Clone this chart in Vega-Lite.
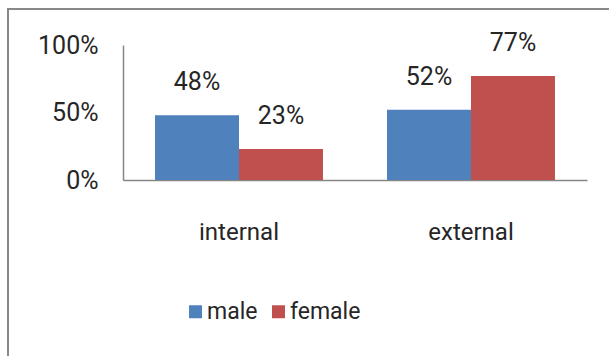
{
  "$schema": "https://vega.github.io/schema/vega-lite/v6.json",
  "autosize": {"type": "none"},
  "padding": {"left": 8, "top": 9, "right": 0, "bottom": 0},
  "width": 620,
  "height": 360,
  "background": "#ffffff",
  "config": {
    "view": {"stroke": "#888888", "strokeWidth": 2},
    "font": "Roboto",
    "text": {"font": "Roboto"}
  },
  "data": {
    "values": [
      {"type": "internal", "gender": "male", "value": 0.48},
      {"type": "internal", "gender": "female", "value": 0.23},
      {"type": "external", "gender": "male", "value": 0.52},
      {"type": "external", "gender": "female", "value": 0.77}
    ]
  },
  "encoding": {
    "x": {
      "field": "type", "type": "nominal", "sort": ["internal", "external"],
      "scale": {"range": [115, 579], "paddingInner": 0.276, "paddingOuter": 0.138},
      "axis": {
        "title": null, "orient": "bottom", "offset": -189, "labelAngle": 0,
        "ticks": false, "labelPadding": 40, "labelFontSize": 24, "labelFont": "Roboto",
        "labelColor": "#262626", "domainColor": "#868686", "domainWidth": 1.5
      }
    },
    "xOffset": {
      "field": "gender", "type": "nominal", "sort": ["male", "female"],
      "scale": {"paddingInner": 0, "paddingOuter": 0}
    },
    "y": {
      "field": "value", "type": "quantitative",
      "scale": {"domain": [0, 1], "range": [171, 36]},
      "axis": {
        "title": null, "orient": "left", "offset": -115, "values": [0, 0.5, 1], "format": ".0%",
        "ticks": false, "grid": false, "labelPadding": 25, "labelFontSize": 25, "labelFont": "Roboto",
        "labelColor": "#262626", "domainColor": "#868686", "domainWidth": 1.5
      }
    }
  },
  "layer": [
    {
      "mark": {"type": "bar"},
      "encoding": {
        "color": {
          "field": "gender", "type": "nominal", "sort": ["male", "female"],
          "scale": {"domain": ["male", "female"], "range": ["#4F81BD", "#C0504D"]},
          "legend": {
            "title": null, "orient": "none", "direction": "horizontal",
            "legendX": 176, "legendY": 291,
            "symbolType": "square", "symbolSize": 169, "symbolStrokeWidth": 0,
            "labelFontSize": 23, "labelFont": "Roboto", "labelColor": "#262626",
            "labelOffset": 0, "columnPadding": 9
          }
        }
      }
    },
    {
      "mark": {"type": "text", "dy": -33, "baseline": "middle", "fontSize": 25, "color": "#262626"},
      "encoding": {
        "text": {"field": "value", "type": "quantitative", "format": ".0%"}
      }
    }
  ]
}
